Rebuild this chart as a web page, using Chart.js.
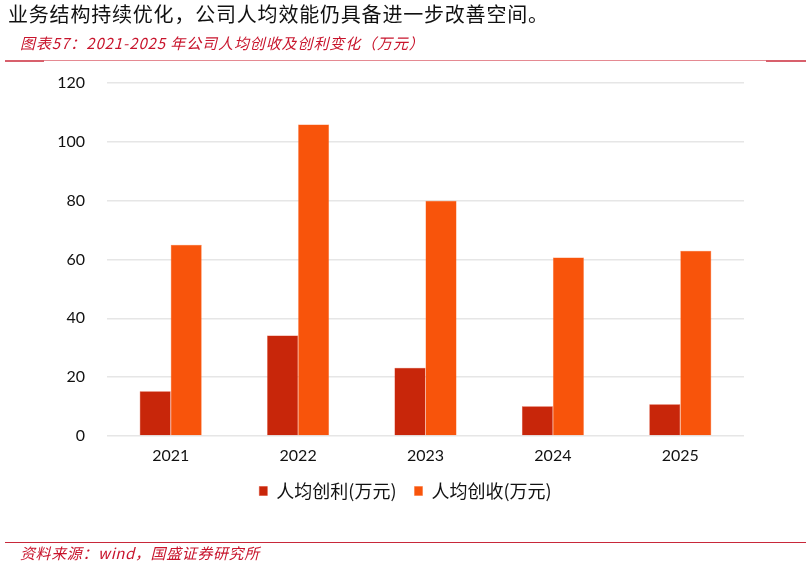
<!DOCTYPE html>
<html>
<head>
<meta charset="utf-8">
<script src="https://cdn.jsdelivr.net/npm/chart.js@4"></script>
<style>
  html, body { margin: 0; padding: 0; background: #fff; }
  #wrap { position: relative; width: 811px; height: 566px; overflow: hidden; }
  #chart { position: absolute; left: 0; top: 0; }
  .txt { position: absolute; white-space: nowrap; font-family: "Noto Sans CJK SC", sans-serif; }
  .line { position: absolute; }
</style>
</head>
<body>
<div id="wrap">
  <canvas id="chart" width="811" height="566"></canvas>
  <div class="txt" style="left:8px; top:1px; font-size:20px; letter-spacing:0.8px; color:#111; line-height:26px;">业务结构持续优化，公司人均效能仍具备进一步改善空间。</div>
  <div class="txt" style="left:20px; top:33px; font-size:15px; letter-spacing:0.9px; color:#c8142c; font-style:italic; line-height:20px;">图表57：2021-2025 年公司人均创收及创利变化（万元）</div>
  <div class="line" style="left:5px; top:60px; width:801px; height:1px; background:#e58a92;"></div>
  <div class="line" style="left:5px; top:60px; width:39px; height:2px; background:#d8606c;"></div>
  <div class="line" style="left:766px; top:60px; width:40px; height:2px; background:#d8606c;"></div>
  <div class="line" style="left:5px; top:542px; width:801px; height:1px; background:#c8283a;"></div>
  <div class="txt" style="left:20px; top:543px; font-size:15px; letter-spacing:0.6px; color:#c8142c; font-style:italic; line-height:20px;">资料来源：wind，国盛证券研究所</div>
</div>
<script>
// 数据
const years = ['2021', '2022', '2023', '2024', '2025'];
const profitPerCapita = [15.2, 34.2, 23.2, 10.1, 10.8];   // 人均创利(万元)
const revenuePerCapita = [65.0, 105.9, 80.0, 60.7, 63.0]; // 人均创收(万元)
const yTicks = [0, 20, 40, 60, 80, 100, 120];

const numFont = { family: 'Lato, "DejaVu Sans", sans-serif', size: 16 };

const ctx = document.getElementById('chart').getContext('2d');
new Chart(ctx, {
    type: 'bar',
    data: {
        labels: years,
        datasets: [
            {
                label: '人均创利(万元)',
                data: profitPerCapita,
                backgroundColor: '#c8260a',
                borderColor: '#d9391c',
                borderWidth: 0.5
            },
            {
                label: '人均创收(万元)',
                data: revenuePerCapita,
                backgroundColor: '#f8540b',
                borderColor: '#fb6a2a',
                borderWidth: 0.5
            }
        ]
    },
    options: {
        responsive: false,
        animation: false,
        devicePixelRatio: 1,
        layout: { padding: { top: 83, right: 0, left: 0, bottom: 56 } },
        datasets: {
            bar: { barPercentage: 1, categoryPercentage: 0.487 }
        },
        scales: {
            x: {
                grid: { display: false, drawTicks: false },
                border: { display: false },
                ticks: { font: numFont, color: '#111', padding: 10 },
                afterFit: (scale) => { scale.height = 28; }
            },
            y: {
                min: 0,
                max: 120,
                afterFit: (scale) => { scale.width = 107; },
                afterBuildTicks: (scale) => { scale.ticks = yTicks.map(v => ({ value: v })); },
                grid: { color: '#e6e6e6', lineWidth: 1.5, drawTicks: false },
                border: { display: false },
                ticks: { font: numFont, color: '#111', padding: 22 }
            },
            // 右侧留白（让图例按整页居中）
            yRight: {
                position: 'right',
                min: 0,
                max: 120,
                grid: { display: false, drawTicks: false },
                border: { display: false },
                ticks: { display: false },
                afterFit: (scale) => { scale.width = 67; }
            }
        },
        plugins: {
            title: { display: false },
            tooltip: { enabled: false },
            legend: {
                position: 'bottom',
                labels: {
                    boxWidth: 8,
                    boxHeight: 9,
                    padding: 18,
                    color: '#111',
                    font: { family: '"Noto Sans CJK SC", sans-serif', size: 18 }
                }
            }
        }
    }
});
</script>
</body>
</html>
